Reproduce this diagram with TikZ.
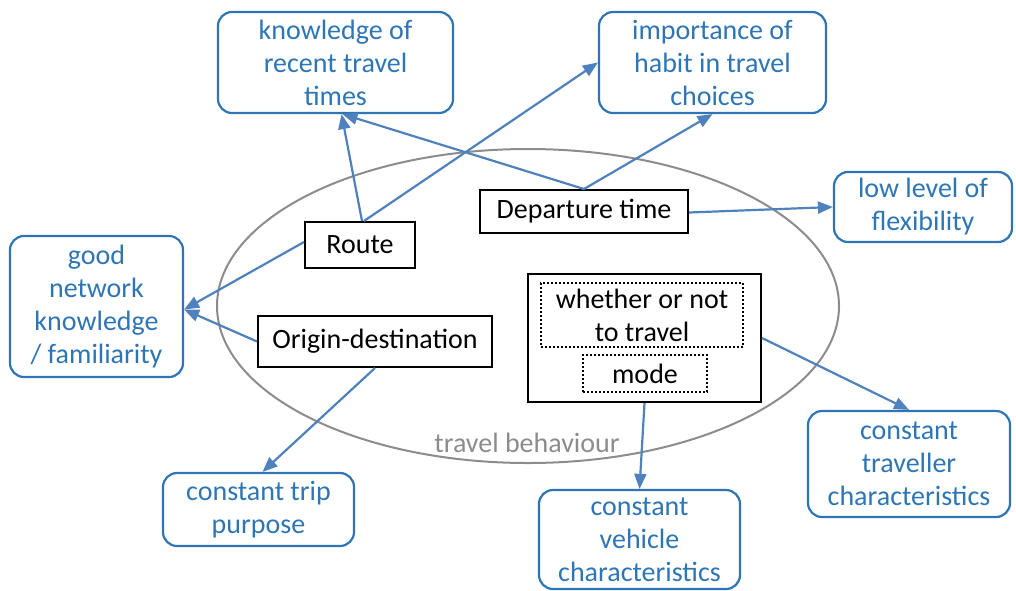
\documentclass[tikz,border=0pt]{standalone}
\usepackage{fontspec}
\setmainfont{Carlito}
\usetikzlibrary{arrows.meta}
\definecolor{bblue}{RGB}{46,117,182}
\definecolor{ablue}{RGB}{79,129,189}
\definecolor{egrey}{RGB}{140,140,140}
\begin{document}
\begin{tikzpicture}[x=1pt,y=-1pt,
  every node/.style={font=\fontsize{28}{33}\selectfont, inner sep=0pt, align=center},
  bluebox/.style={draw=bblue, line width=2.2pt, rounded corners=14pt, text=bblue},
  blackbox/.style={draw=black, line width=2pt},
  dotbox/.style={draw=black, line width=1.8pt, dash pattern=on 2pt off 2pt},
  arr/.style={draw=ablue, line width=2.2pt, -{Triangle[length=15pt,width=12pt]}}
]
\useasboundingbox (0,0) rectangle (1016,590);
% ellipse
\draw[egrey, line width=2pt] (528,306) ellipse [x radius=311, y radius=157];
\node[text=egrey] (tb) at (527,443) {travel behaviour};

% blue boxes
\node[bluebox, minimum width=235, minimum height=101] (know) at (335.5,62.5) {knowledge of\\recent travel\\times};
\node[bluebox, minimum width=227, minimum height=101] (habit) at (712.5,62.5) {importance of\\habit in travel\\choices};
\node[bluebox, minimum width=178, minimum height=70] (flex) at (923,207) {low level of\\flexibility};
\node[bluebox, minimum width=173, minimum height=141] (good) at (96.5,306.5) {good\\network\\knowledge\\/ familiarity};
\node[bluebox, minimum width=191, minimum height=73] (trip) at (258.5,509.5) {constant trip\\purpose};
\node[bluebox, minimum width=201, minimum height=99] (veh) at (639.5,539.5) {constant\\vehicle\\characteristics};
\node[bluebox, minimum width=202, minimum height=106] (trav) at (909,464) {constant\\traveller\\characteristics};

% black boxes
\node[blackbox, minimum width=110, minimum height=46] (route) at (360,245) {Route};
\node[blackbox, minimum width=208, minimum height=43] (dep) at (584,211.5) {Departure time};
\node[blackbox, minimum width=234, minimum height=51] (od) at (375,341.5) {Origin-destination};
\node[blackbox, minimum width=233, minimum height=128] (big) at (644.5,338) {};
\node[dotbox, minimum width=202, minimum height=64] (whether) at (642,315) {whether or not\\to travel};
\node[dotbox, minimum width=124, minimum height=37] (mode) at (645,373.5) {mode};

% connectors
\draw[arr] ([xshift=2]route.north) -- ([xshift=6]know.south);
\draw[arr] ([xshift=4]route.north) -- (habit.west);
\draw[arr] (dep.north) -- ([xshift=7]know.south);
\draw[arr] (dep.north) -- (habit.south);
\draw[arr] ([yshift=-1]dep.east) -- (flex.west);
\draw[arr] ([yshift=3]route.west) -- ([yshift=-3]good.east);
\draw[arr] (od.west) -- ([yshift=-3]good.east);
\draw[arr] (od.south) -- ([xshift=4]trip.north);
\draw[arr] (big.south) -- (veh.north);
\draw[arr] (big.east) -- (trav.north);
\end{tikzpicture}
\end{document}
